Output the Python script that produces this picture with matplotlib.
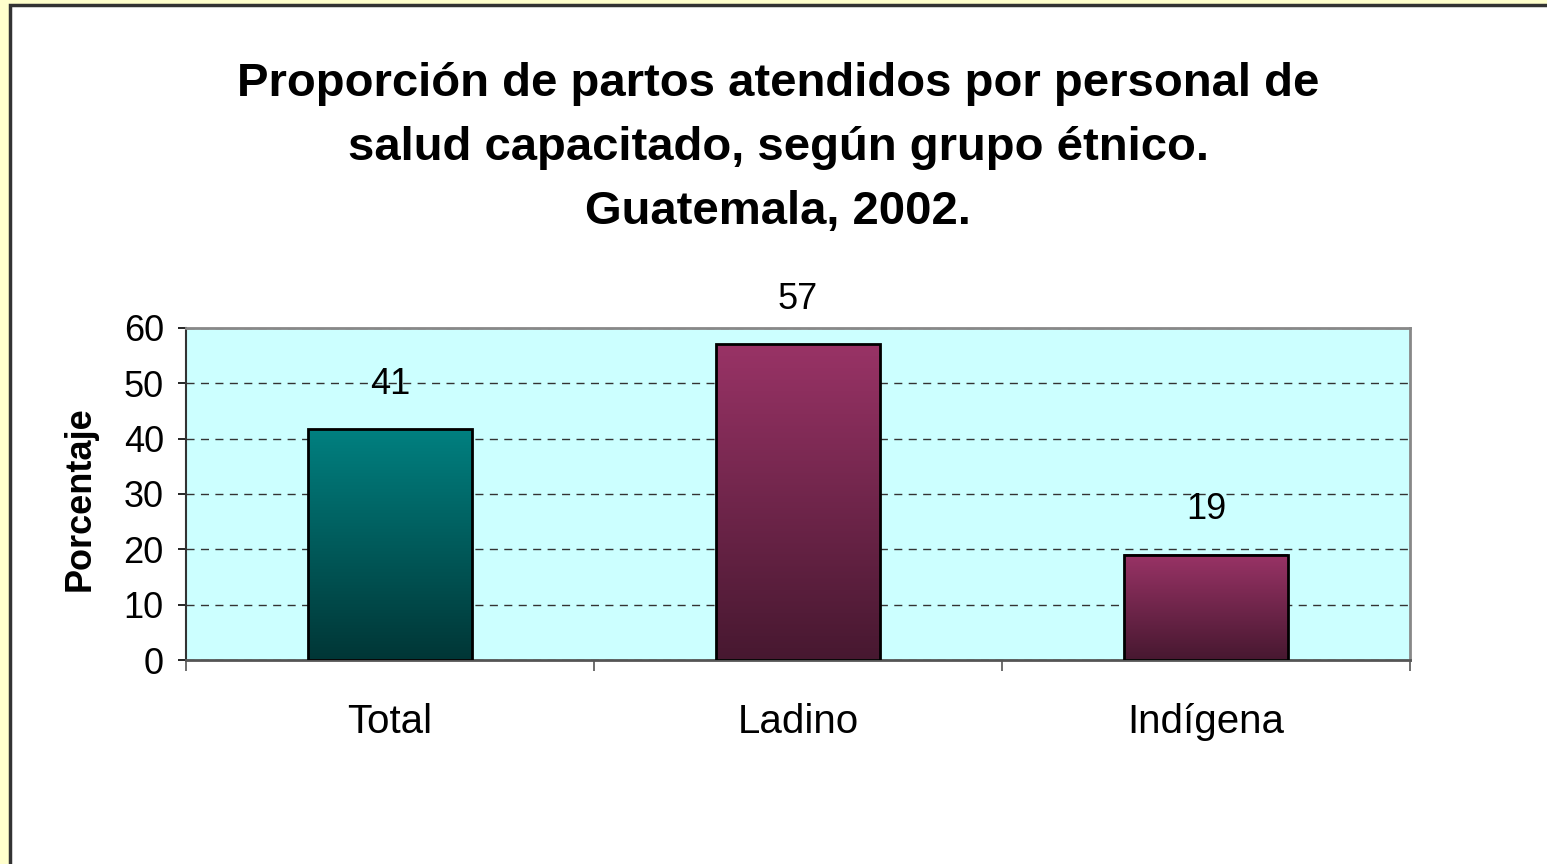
import numpy as np
import matplotlib
matplotlib.use('Agg')
import matplotlib.pyplot as plt
from matplotlib.colors import LinearSegmentedColormap
from matplotlib.patches import Rectangle

plt.rcParams['font.family'] = ['Liberation Sans', 'DejaVu Sans']

categories = ['Total', 'Ladino', 'Indígena']
values = [41.7, 57.1, 19.0]
value_labels = ['41', '57', '19']
top_colors = ['#008080', '#993366', '#993366']
bottom_colors = ['#003636', '#471830', '#471830']
y_ticks = [0, 10, 20, 30, 40, 50, 60]

title = ('Proporción de partos atendidos por personal de\n'
         'salud capacitado, según grupo étnico.\n'
         'Guatemala, 2002.')

W, H = 1547, 864
fig = plt.figure(figsize=(W / 100, H / 100), dpi=100, facecolor='#FFFFCC')

# white panel with dark border on left and top
panel = Rectangle((10 / W, -0.05), 1.1, 1 - 5 / H + 0.05, transform=fig.transFigure,
                  facecolor='white', edgecolor='#333333', linewidth=2.5, zorder=-10)
fig.patches.append(panel)

ax = fig.add_axes([186 / W, 1 - 660 / H, (1410 - 186) / W, (660 - 328) / H])
ax.set_facecolor('#CCFFFF')

x = np.arange(len(categories))
bars = ax.bar(x, values, width=0.4, facecolor='none', edgecolor='black',
              linewidth=2, zorder=3)

# vertical gradient fill for each bar
for bar, c_top, c_bot in zip(bars, top_colors, bottom_colors):
    cmap = LinearSegmentedColormap.from_list('g', [c_bot, c_top])
    grad = np.linspace(0, 1, 256).reshape(-1, 1)
    x0, w, h = bar.get_x(), bar.get_width(), bar.get_height()
    ax.imshow(grad, cmap=cmap, aspect='auto', origin='lower',
              extent=[x0, x0 + w, 0, h], zorder=2)

for bar, lab in zip(bars, value_labels):
    ax.annotate(lab, (bar.get_x() + bar.get_width() / 2, bar.get_height()),
                xytext=(0, 45), textcoords='offset pixels',
                ha='center', va='center', fontsize=26, zorder=4)

ax.set_xlim(-0.5, len(categories) - 0.5)
ax.set_ylim(0, 60)
ax.set_yticks(y_ticks)
ax.set_yticklabels([str(t) for t in y_ticks], fontsize=26)
ax.tick_params(axis='y', length=6, width=1.2, color='black', pad=10)

ax.set_xticks(x)
ax.set_xticklabels(categories, fontsize=29)
ax.tick_params(axis='x', length=0, pad=31)
ax.set_xticks(np.arange(len(categories) + 1) - 0.5, minor=True)
ax.tick_params(axis='x', which='minor', length=8, width=1.2, color='#555555')

ax.grid(axis='y', color='#333333', linestyle=(0, (5.8, 4.6)), linewidth=1, zorder=1)
ax.set_axisbelow(True)

for side in ['top', 'right']:
    ax.spines[side].set_color('#888888')
    ax.spines[side].set_linewidth(2)
ax.spines['left'].set_color('#333333')
ax.spines['left'].set_linewidth(1.5)
ax.spines['bottom'].set_color('#555555')
ax.spines['bottom'].set_linewidth(2)

fig.text(80 / W, 1 - 499 / H, 'Porcentaje', rotation=90, ha='center', va='center',
         fontsize=26, fontweight='bold')

fig.text(778 / W, 1 - 148 / H, title, ha='center', va='center', fontsize=34,
         fontweight='bold', linespacing=1.6)

fig.savefig('out.png', dpi=100, facecolor=fig.get_facecolor())
